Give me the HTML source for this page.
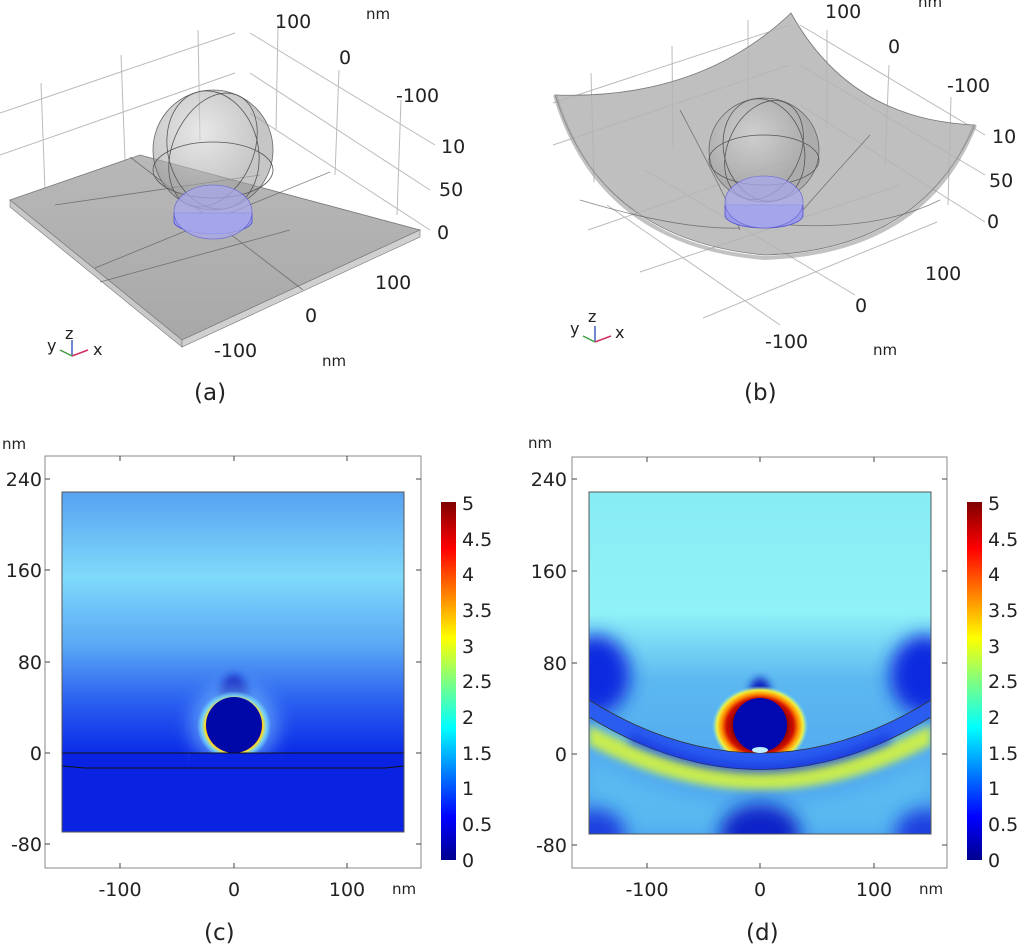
<!DOCTYPE html>
<html><head><meta charset="utf-8"><style>
body{margin:0;background:#fff;}
svg text{font-family:"DejaVu Sans","Liberation Sans",sans-serif;fill:#222;}
</style></head><body>
<svg width="1024" height="947" viewBox="0 0 1024 947" xmlns="http://www.w3.org/2000/svg">
<defs>
<linearGradient id="jet" x1="0" y1="1" x2="0" y2="0">
<stop offset="0" stop-color="#00008f"/><stop offset="0.12" stop-color="#0000ff"/>
<stop offset="0.37" stop-color="#00ffff"/><stop offset="0.5" stop-color="#80ff80"/>
<stop offset="0.62" stop-color="#ffff00"/><stop offset="0.87" stop-color="#ff0000"/>
<stop offset="1" stop-color="#7f0000"/></linearGradient>
<linearGradient id="cbg" x1="0" y1="0" x2="0" y2="1">
<stop offset="0" stop-color="#56a2f2"/><stop offset="0.25" stop-color="#7fdafa"/>
<stop offset="0.45" stop-color="#5aa8f5"/><stop offset="0.62" stop-color="#2a5ef0"/>
<stop offset="0.76" stop-color="#0d2ee8"/><stop offset="1" stop-color="#0a20e2"/></linearGradient>
<radialGradient id="halo">
<stop offset="0.7" stop-color="#ff2000"/><stop offset="0.78" stop-color="#ffe020"/>
<stop offset="0.88" stop-color="#80e8ff" stop-opacity="0.7"/><stop offset="1" stop-color="#80e8ff" stop-opacity="0"/></radialGradient>
<radialGradient id="halod">
<stop offset="0.55" stop-color="#8a0000"/><stop offset="0.7" stop-color="#d01000"/>
<stop offset="0.8" stop-color="#ff9000"/><stop offset="0.9" stop-color="#f0f040"/>
<stop offset="1" stop-color="#90f0e0" stop-opacity="0"/></radialGradient>
<linearGradient id="dbg" x1="0" y1="0" x2="0" y2="1">
<stop offset="0" stop-color="#88ecf5"/><stop offset="0.35" stop-color="#90f2f8"/>
<stop offset="0.55" stop-color="#5cb8f0"/><stop offset="1" stop-color="#4aa0f0"/></linearGradient>
<linearGradient id="slab" x1="0" y1="0" x2="0" y2="1"><stop offset="0" stop-color="#b8b8b8"/><stop offset="1" stop-color="#a8a8a8"/></linearGradient>
<radialGradient id="sph" cx="0.4" cy="0.35"><stop offset="0" stop-color="#d8d8d8" stop-opacity="0.6"/><stop offset="1" stop-color="#a0a0a0" stop-opacity="0.6"/></radialGradient>
<filter id="bl" x="-100%" y="-100%" width="300%" height="300%"><feGaussianBlur stdDeviation="9"/></filter>
<filter id="bl2" x="-100%" y="-100%" width="300%" height="300%"><feGaussianBlur stdDeviation="4"/></filter>
<clipPath id="cc"><rect x="62" y="492" width="342" height="340"/></clipPath>
<clipPath id="cd"><rect x="589" y="492" width="342" height="342"/></clipPath>
</defs>

<!-- Panel (a) -->
<g stroke="#bbb" stroke-width="1" fill="none">
<line x1="0" y1="113" x2="235" y2="33"/><line x1="0" y1="155" x2="235" y2="73"/>
<line x1="41" y1="83" x2="45" y2="190"/><line x1="121" y1="55" x2="125" y2="160"/><line x1="198" y1="30" x2="200" y2="140"/>
<line x1="250" y1="33" x2="435" y2="145"/><line x1="250" y1="73" x2="430" y2="190"/><line x1="250" y1="113" x2="430" y2="230"/>
<line x1="278" y1="25" x2="276" y2="130"/><line x1="339" y1="70" x2="335" y2="175"/><line x1="401" y1="100" x2="397" y2="215"/>
</g>
<polygon points="10,200 140,155 420,230 182,340" fill="url(#slab)" stroke="#777" stroke-width="0.8"/>
<polygon points="10,200 182,340 182,347 10,207" fill="#c8c8c8" stroke="#777" stroke-width="0.6"/>
<polygon points="182,340 420,230 420,237 182,347" fill="#d0d0d0" stroke="#777" stroke-width="0.6"/>
<g stroke="#555" stroke-width="0.8" fill="none" opacity="0.7">
<line x1="95" y1="268" x2="330" y2="172"/><line x1="130" y1="157" x2="303" y2="290"/>
<line x1="55" y1="205" x2="260" y2="175"/><line x1="100" y1="282" x2="290" y2="230"/>
</g>
<ellipse cx="213" cy="150" rx="60" ry="60" fill="url(#sph)" stroke="#666" stroke-width="0.8"/>
<g stroke="#555" stroke-width="0.8" fill="none">
<ellipse cx="213" cy="170" rx="60" ry="28"/><ellipse cx="213" cy="150" rx="45" ry="60" transform="rotate(-15 213 150)"/><ellipse cx="213" cy="150" rx="40" ry="60" transform="rotate(25 213 150)"/>
</g>
<path d="M174,213 L174,223 A40,14 0 0 0 252,223 L252,213 Z" fill="#9a9ae8" stroke="#5050d0" stroke-width="0.8"/>
<ellipse cx="213" cy="212" rx="39" ry="27" fill="#a8a8ec" fill-opacity="0.75" stroke="#6060d0" stroke-width="0.6"/>
<g font-size="19"><text x="275" y="28">100</text>
<text x="339" y="64">0</text><text x="396" y="102">-100</text>
<text x="441" y="153">10</text><text x="439" y="196">50</text><text x="437" y="239">0</text>
<text x="375" y="289">100</text><text x="305" y="322">0</text><text x="214" y="357">-100</text></g>
<text x="366" y="19" font-size="15">nm</text><text x="322" y="366" font-size="15">nm</text>
<g font-size="16"><text x="47" y="351">y</text><text x="65" y="339">z</text><text x="93" y="355">x</text></g>
<line x1="72" y1="356" x2="72" y2="340" stroke="#4060c0" stroke-width="1.5"/><line x1="72" y1="356" x2="88" y2="350" stroke="#d03060" stroke-width="1.5"/><line x1="72" y1="356" x2="60" y2="350" stroke="#40a040" stroke-width="1.5"/>
<text x="194" y="400" font-size="23">(a)</text>

<!-- Panel (b) -->
<g stroke="#bbb" stroke-width="1" fill="none">
<line x1="553" y1="103" x2="790" y2="25"/><line x1="553" y1="145" x2="790" y2="65"/><line x1="588" y1="230" x2="790" y2="160"/><line x1="640" y1="272" x2="900" y2="185"/><line x1="703" y1="318" x2="937" y2="222"/>
<line x1="800" y1="25" x2="985" y2="135"/><line x1="800" y1="65" x2="985" y2="175"/><line x1="800" y1="105" x2="985" y2="222"/>
<line x1="607" y1="205" x2="780" y2="325"/><line x1="645" y1="170" x2="855" y2="295"/>
<line x1="591" y1="73" x2="594" y2="182"/><line x1="672" y1="46" x2="673" y2="150"/><line x1="748" y1="20" x2="748" y2="120"/>
<line x1="827" y1="30" x2="827" y2="130"/><line x1="889" y1="65" x2="885" y2="165"/><line x1="951" y1="97" x2="948" y2="205"/>
</g>
<path d="M791,13 Q700,100 555,95 Q600,240 765,255 Q920,250 975,125 Q850,120 791,13 Z" fill="#b4b4b4" fill-opacity="0.85" stroke="#777" stroke-width="0.8"/>
<path d="M555,95 Q600,245 765,258 Q925,252 975,125" fill="none" stroke="#999" stroke-width="4" opacity="0.6"/>
<g stroke="#555" stroke-width="0.8" fill="none" opacity="0.7">
<path d="M680,110 Q720,185 740,230"/><path d="M870,135 Q820,190 790,225"/><path d="M580,200 Q680,230 740,228"/><path d="M790,225 Q880,230 940,200"/>
</g>
<ellipse cx="764" cy="150" rx="55" ry="52" fill="url(#sph)" stroke="#666" stroke-width="0.8"/>
<g stroke="#555" stroke-width="0.8" fill="none">
<ellipse cx="764" cy="160" rx="55" ry="25"/><ellipse cx="764" cy="150" rx="40" ry="52" transform="rotate(-15 764 150)"/><ellipse cx="764" cy="150" rx="36" ry="52" transform="rotate(25 764 150)"/>
</g>
<path d="M725,205 L725,215 A39,13 0 0 0 803,215 L803,205 Z" fill="#9a9ae8" stroke="#5050d0" stroke-width="0.8"/>
<ellipse cx="764" cy="202" rx="39" ry="26" fill="#a8a8ec" fill-opacity="0.75" stroke="#6060d0" stroke-width="0.6"/>
<g font-size="19"><text x="825" y="18">100</text>
<text x="888" y="53">0</text><text x="947" y="92">-100</text>
<text x="992" y="143">10</text><text x="989" y="187">50</text><text x="987" y="228">0</text>
<text x="925" y="280">100</text><text x="855" y="312">0</text><text x="765" y="348">-100</text></g>
<text x="918" y="7" font-size="15">nm</text><text x="873" y="355" font-size="15">nm</text>
<g font-size="16"><text x="570" y="334">y</text><text x="588" y="322">z</text><text x="615" y="338">x</text></g>
<line x1="595" y1="342" x2="595" y2="326" stroke="#4060c0" stroke-width="1.5"/><line x1="595" y1="342" x2="611" y2="336" stroke="#d03060" stroke-width="1.5"/><line x1="595" y1="342" x2="583" y2="336" stroke="#40a040" stroke-width="1.5"/>
<text x="744" y="400" font-size="23">(b)</text>

<!-- Panel (c) -->
<rect x="45" y="456" width="376" height="412" fill="none" stroke="#888"/>
<g clip-path="url(#cc)">
<rect x="62" y="492" width="342" height="340" fill="url(#cbg)"/>
<rect x="62" y="753" width="342" height="80" fill="#0a22e2"/>
<ellipse cx="234" cy="695" rx="14" ry="20" fill="#0a1cc0" filter="url(#bl2)"/>
<ellipse cx="234" cy="726" rx="44" ry="42" fill="#8ad8ff" opacity="0.5" filter="url(#bl)"/>
<ellipse cx="234" cy="726" rx="37" ry="35" fill="url(#halo)"/>
<rect x="190" y="753" width="90" height="30" fill="#0a22e2"/>
<circle cx="234" cy="725" r="28" fill="#0008a8"/>
<line x1="62" y1="753" x2="404" y2="753" stroke="#111" stroke-width="1"/>
<path d="M62,766 L85,768 L385,768 L404,766" fill="none" stroke="#111" stroke-width="1"/>
</g>
<rect x="62" y="492" width="342" height="340" fill="none" stroke="#555"/>
<g stroke="#444"><line x1="120" y1="456" x2="120" y2="461"/><line x1="234" y1="456" x2="234" y2="461"/><line x1="347" y1="456" x2="347" y2="461"/>
<line x1="120" y1="868" x2="120" y2="863"/><line x1="234" y1="868" x2="234" y2="863"/><line x1="347" y1="868" x2="347" y2="863"/>
<line x1="45" y1="479" x2="50" y2="479"/><line x1="45" y1="570" x2="50" y2="570"/><line x1="45" y1="662" x2="50" y2="662"/><line x1="45" y1="753" x2="50" y2="753"/><line x1="45" y1="844" x2="50" y2="844"/>
<line x1="421" y1="479" x2="416" y2="479"/><line x1="421" y1="570" x2="416" y2="570"/><line x1="421" y1="662" x2="416" y2="662"/><line x1="421" y1="753" x2="416" y2="753"/><line x1="421" y1="844" x2="416" y2="844"/></g>
<g font-size="19" text-anchor="end"><text x="42" y="486">240</text><text x="42" y="577">160</text><text x="42" y="669">80</text><text x="42" y="760">0</text><text x="42" y="851">-80</text></g>
<text x="2" y="449" font-size="15">nm</text>
<g font-size="19" text-anchor="middle"><text x="120" y="896">-100</text><text x="234" y="896">0</text><text x="347" y="896">100</text></g>
<text x="392" y="894" font-size="15">nm</text>
<rect x="441" y="502" width="15" height="358" fill="url(#jet)"/>
<g font-size="19"><text x="462" y="510">5</text><text x="462" y="546">4.5</text><text x="462" y="581">4</text><text x="462" y="617">3.5</text><text x="462" y="653">3</text><text x="462" y="688">2.5</text><text x="462" y="724">2</text><text x="462" y="760">1.5</text><text x="462" y="795">1</text><text x="462" y="831">0.5</text><text x="462" y="867">0</text></g>
<text x="204" y="940" font-size="23">(c)</text>

<!-- Panel (d) -->
<rect x="572" y="457" width="375" height="411" fill="none" stroke="#888"/>
<g clip-path="url(#cd)">
<rect x="589" y="492" width="342" height="342" fill="url(#dbg)"/>
<ellipse cx="595" cy="675" rx="35" ry="40" fill="#0a2ce0" filter="url(#bl)"/>
<ellipse cx="925" cy="675" rx="35" ry="40" fill="#0a2ce0" filter="url(#bl)"/>
<path d="M589,725 Q760,815 931,725 L931,745 Q760,835 589,745 Z" fill="#c8ec50" filter="url(#bl2)"/>
<path d="M589,760 Q760,845 931,760 L931,834 L589,834 Z" fill="#60c8f0" filter="url(#bl)" opacity="0.6"/>
<ellipse cx="760" cy="834" rx="40" ry="30" fill="#0a20c8" filter="url(#bl)"/>
<ellipse cx="595" cy="834" rx="30" ry="25" fill="#1a40e0" filter="url(#bl)"/>
<ellipse cx="925" cy="834" rx="30" ry="25" fill="#1a40e0" filter="url(#bl)"/>
<ellipse cx="760" cy="690" rx="10" ry="12" fill="#0a20c0" filter="url(#bl2)"/>
<ellipse cx="760" cy="726" rx="48" ry="40" fill="url(#halod)"/>
<path d="M589,700 Q760,806 931,700 L931,717 Q760,822 589,717 Z" fill="#2a5cf0" stroke="#333" stroke-width="0.8"/>
<path d="M630,738 Q760,800 890,738" fill="none" stroke="#0a20d0" stroke-width="10" opacity="0.5" filter="url(#bl2)"/>
<circle cx="760" cy="725" r="27" fill="#0008b0"/>
<ellipse cx="760" cy="750" rx="8" ry="3" fill="#c0f0ff"/>
</g>
<rect x="589" y="492" width="342" height="342" fill="none" stroke="#555"/>
<g stroke="#444"><line x1="647" y1="457" x2="647" y2="462"/><line x1="760" y1="457" x2="760" y2="462"/><line x1="874" y1="457" x2="874" y2="462"/>
<line x1="647" y1="868" x2="647" y2="863"/><line x1="760" y1="868" x2="760" y2="863"/><line x1="874" y1="868" x2="874" y2="863"/>
<line x1="572" y1="479" x2="577" y2="479"/><line x1="572" y1="571" x2="577" y2="571"/><line x1="572" y1="663" x2="577" y2="663"/><line x1="572" y1="754" x2="577" y2="754"/><line x1="572" y1="845" x2="577" y2="845"/>
<line x1="947" y1="479" x2="942" y2="479"/><line x1="947" y1="571" x2="942" y2="571"/><line x1="947" y1="663" x2="942" y2="663"/><line x1="947" y1="754" x2="942" y2="754"/><line x1="947" y1="845" x2="942" y2="845"/></g>
<g font-size="19" text-anchor="end"><text x="567" y="486">240</text><text x="567" y="578">160</text><text x="567" y="670">80</text><text x="567" y="761">0</text><text x="567" y="852">-80</text></g>
<text x="528" y="448" font-size="15">nm</text>
<g font-size="19" text-anchor="middle"><text x="647" y="896">-100</text><text x="760" y="896">0</text><text x="874" y="896">100</text></g>
<text x="919" y="894" font-size="15">nm</text>
<rect x="967" y="502" width="15" height="358" fill="url(#jet)"/>
<g font-size="19"><text x="988" y="510">5</text><text x="988" y="546">4.5</text><text x="988" y="581">4</text><text x="988" y="617">3.5</text><text x="988" y="653">3</text><text x="988" y="688">2.5</text><text x="988" y="724">2</text><text x="988" y="760">1.5</text><text x="988" y="795">1</text><text x="988" y="831">0.5</text><text x="988" y="867">0</text></g>
<text x="746" y="940" font-size="23">(d)</text>
</svg>
</body></html>
